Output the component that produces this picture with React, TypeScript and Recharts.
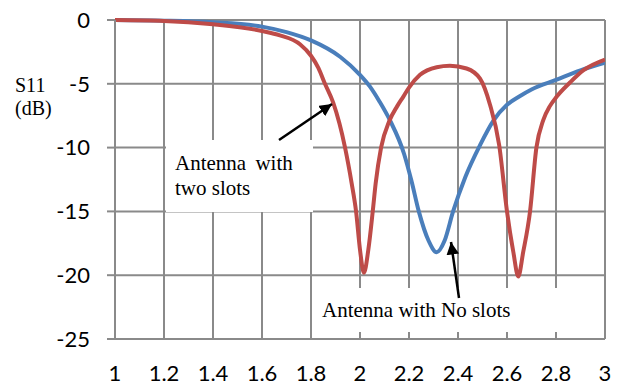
import { LineChart, Line, XAxis, YAxis, CartesianGrid } from 'recharts';

// frequency (GHz) and S11 (dB)
const noSlotsFreq = [1.0, 1.2, 1.4, 1.6, 1.7, 1.8, 1.92, 2.0, 2.04, 2.08, 2.122, 2.18, 2.21, 2.24, 2.28, 2.313, 2.345, 2.38, 2.43, 2.49, 2.544, 2.6, 2.65, 2.7, 2.8, 2.9, 3.0];
const noSlotsS11 = [0, -0.05, -0.18, -0.52, -0.95, -1.6, -2.9, -4.3, -5.2, -6.4, -7.85, -10.5, -12.6, -15, -17.3, -18.2, -17.3, -15, -12.3, -9.8, -7.9, -6.65, -6.0, -5.45, -4.7, -3.95, -3.35];

const twoSlotsFreq = [1.0, 1.2, 1.4, 1.6, 1.673, 1.755, 1.8, 1.83, 1.857, 1.891, 1.939, 1.966, 1.984, 2.0, 2.016, 2.034, 2.052, 2.064, 2.086, 2.12, 2.152, 2.177, 2.2, 2.245, 2.313, 2.367, 2.435, 2.49, 2.53, 2.568, 2.6, 2.626, 2.646, 2.666, 2.694, 2.72, 2.748, 2.775, 2.803, 2.857, 2.911, 3.0];
const twoSlotsS11 = [0, -0.07, -0.34, -0.86, -1.2, -1.9, -2.8, -3.75, -5.0, -6.5, -10, -12.8, -15, -18, -19.8, -18, -15, -12.8, -10, -7.9, -6.75, -6.0, -5.3, -4.3, -3.7, -3.58, -3.8, -4.6, -6.6, -9.8, -15, -18.2, -20.1, -18.2, -15, -10, -7.85, -6.75, -6.0, -4.9, -3.95, -3.1];

const xTicks = [1, 1.2, 1.4, 1.6, 1.8, 2, 2.2, 2.4, 2.6, 2.8, 3];
const yTicks = [0, -5, -10, -15, -20, -25];

const noSlots = noSlotsFreq.map((f, i) => ({ f, s11: noSlotsS11[i] }));
const twoSlots = twoSlotsFreq.map((f, i) => ({ f, s11: twoSlotsS11[i] }));

const GRID = '#8a8a8a';
const tickFont = { fill: '#000', fontSize: 22, fontFamily: 'Lato, "Open Sans", sans-serif' };
const serif = '"Liberation Serif", "Times New Roman", serif';

const App = () => {
  return (
    <div style={{ position: 'absolute', left: 0, top: 0, width: 623, height: 385, background: '#fff' }}>
      <LineChart width={623} height={385} margin={{ top: 20, right: 18, bottom: 0, left: 0 }}>
        <CartesianGrid stroke={GRID} strokeWidth={2} />
        <XAxis
          dataKey="f"
          type="number"
          domain={[1, 3]}
          ticks={xTicks}
          allowDataOverflow
          height={46}
          axisLine={{ stroke: GRID, strokeWidth: 2 }}
          tickLine={false}
          tickSize={0}
          tickMargin={26}
          tick={tickFont}
        />
        <YAxis
          type="number"
          domain={[-25, 0]}
          ticks={yTicks}
          width={115}
          axisLine={{ stroke: GRID, strokeWidth: 2 }}
          tickLine={{ stroke: GRID, strokeWidth: 2 }}
          tickSize={8}
          tickMargin={17}
          tick={tickFont}
        />
        <Line data={noSlots} dataKey="s11" type="monotone" stroke="#4a7ebb" strokeWidth={4} dot={false} isAnimationActive={false} />
        <Line data={twoSlots} dataKey="s11" type="monotone" stroke="#be4b48" strokeWidth={4} dot={false} isAnimationActive={false} />
      </LineChart>
      <svg width={623} height={385} style={{ position: 'absolute', left: 0, top: 0, pointerEvents: 'none' }}>
        <defs>
          <marker id="head" viewBox="0 0 10 10" refX="10" refY="5" markerWidth="5" markerHeight="5" orient="auto" markerUnits="strokeWidth">
            <path d="M0,0 L10,5 L0,10 z" fill="#000" />
          </marker>
        </defs>
        <rect x={166} y={140} width={147} height={72} fill="#fff" />
        <rect x={313} y={288} width={290} height={44} fill="#fff" />
        <text x={15} y={92} fontFamily={serif} fontSize={20}>S11</text>
        <text x={15} y={115} fontFamily={serif} fontSize={20}>(dB)</text>
        <text x={175} y={170} fontFamily={serif} fontSize={21} wordSpacing={4}>Antenna with</text>
        <text x={175} y={195} fontFamily={serif} fontSize={21}>two slots</text>
        <text x={322} y={317} fontFamily={serif} fontSize={21}>Antenna with No slots</text>
        <line x1={279} y1={140} x2={332} y2={104} stroke="#000" strokeWidth={2.5} markerEnd="url(#head)" />
        <line x1={459} y1={298} x2={451} y2={242} stroke="#000" strokeWidth={2.5} markerEnd="url(#head)" />
      </svg>
    </div>
  );
};

export default App;
